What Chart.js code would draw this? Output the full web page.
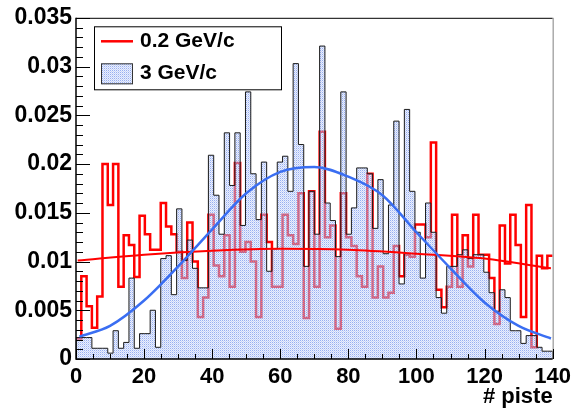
<!DOCTYPE html>
<html>
<head>
<meta charset="utf-8">
<script src="https://cdn.jsdelivr.net/npm/chart.js@4.4.0/dist/chart.umd.min.js"></script>
<style>
  html, body { margin: 0; padding: 0; background: #fff; }
</style>
</head>
<body>
<canvas id="piste" width="576" height="414"></canvas>
<script>
// histogram range: 90 bins between 0 and 140
var xMin = 0, xMax = 140;

// 0.2 GeV/c, one value per bin
var lowMomentum = [
  0.0021, 0.0085, 0.0054, 0.0032, 0.0064, 0.0200, 0.0158, 0.0200, 0.0074, 0.0127,
  0.0117, 0.0084, 0.0147, 0.0128, 0.0112, 0.0112, 0.0160, 0.0136, 0.0128, 0.0110,
  0.0083, 0.0140, 0.0100, 0.0043, 0.0063, 0.0148, 0.0096, 0.0085, 0.0127, 0.0074,
  0.0201, 0.0110, 0.0120, 0.0100, 0.0043, 0.0148, 0.0120, 0.0074, 0.0074, 0.0148,
  0.0127, 0.0118, 0.0170, 0.0042, 0.0172, 0.0074, 0.0233, 0.0125, 0.0137, 0.0031,
  0.0170, 0.0125, 0.0116, 0.0085, 0.0074, 0.0190, 0.0063, 0.0095, 0.0063, 0.0068,
  0.0116, 0.0085, 0.0107, 0.0105, 0.0138, 0.0138, 0.0125, 0.0222, 0.0071, 0.0053,
  0.0074, 0.0148, 0.0074, 0.0127, 0.0095, 0.0148, 0.0107, 0.0107, 0.0083, 0.0036,
  0.0137, 0.0098, 0.0148, 0.0117, 0.0043, 0.0158, 0.0012, 0.0106, 0.0093, 0.0106
];

// 3 GeV/c, one value per bin
var highMomentum = [
  0.0022, 0.0022, 0.0022, 0.0011, 0.0011, 0.0011, 0.0006, 0.0029, 0.0011, 0.0017,
  0.0083, 0.0011, 0.0026, 0.0026, 0.0050, 0.0012, 0.0103, 0.0106, 0.0066, 0.0154,
  0.0101, 0.0122, 0.0093, 0.0073, 0.0073, 0.0209, 0.0168, 0.0128, 0.0232, 0.0178,
  0.0232, 0.0137, 0.0274, 0.0190, 0.0143, 0.0202, 0.0090, 0.0113, 0.0202, 0.0208,
  0.0172, 0.0303, 0.0220, 0.0095, 0.0172, 0.0128, 0.0321, 0.0160, 0.0142, 0.0105,
  0.0274, 0.0128, 0.0155, 0.0196, 0.0196, 0.0190, 0.0134, 0.0184, 0.0108, 0.0158,
  0.0244, 0.0077, 0.0256, 0.0172, 0.0130, 0.0083, 0.0160, 0.0130, 0.0063, 0.0047,
  0.0095, 0.0095, 0.0107, 0.0112, 0.0103, 0.0107, 0.0107, 0.0089, 0.0068, 0.0049,
  0.0071, 0.0063, 0.0029, 0.0029, 0.0016, 0.0024, 0.0024, 0.0012, 0.0008, 0.0008
];

// fitted curves
var lowFitX = [0.5, 20, 40, 60, 80, 100, 120, 139.5];
var lowFitY = [0.0101, 0.0107, 0.0111, 0.0113, 0.0112, 0.0108, 0.0103, 0.0093];
var highFitX = [1, 10, 20, 30, 40, 50, 60, 70, 80, 90, 100, 110, 120, 130, 139.5];
var highFitY = [0.0023, 0.0034, 0.0060, 0.0095, 0.0133, 0.0170, 0.0192, 0.0197, 0.0187, 0.0168, 0.0130, 0.0093, 0.0058, 0.0034, 0.0021];

var yTicks = [0, 0.005, 0.01, 0.015, 0.02, 0.025, 0.03, 0.035];
var legendLabels = ['0.2 GeV/c', '3 GeV/c'];
var axisTitle = '# piste';

var colRed = '#ff0000';
var colFit = '#3a6ef2';
var fontFamily = '"Liberation Sans", Arial, sans-serif';

function histPoints(values, closed) {
  var w = (xMax - xMin) / values.length;
  var pts = [];
  if (closed) pts.push({x: xMin, y: 0});
  for (var i = 0; i < values.length; i++) pts.push({x: xMin + i * w, y: values[i]});
  pts.push({x: xMax, y: values[values.length - 1]});
  if (closed) pts.push({x: xMax, y: 0});
  return pts;
}

function curvePoints(xs, ys) {
  return xs.map(function(x, i) { return {x: x, y: ys[i]}; });
}

// dotted fill like ROOT's pattern, lets the red show through a bit
function makePattern() {
  var c = document.createElement('canvas');
  c.width = 2; c.height = 2;
  var g = c.getContext('2d');
  g.fillStyle = 'rgba(125,155,238,0.8)';
  g.fillRect(0, 0, 1, 1);
  g.fillStyle = 'rgba(170,190,245,0.65)';
  g.fillRect(1, 1, 1, 1);
  g.fillStyle = 'rgba(205,215,250,0.4)';
  g.fillRect(1, 0, 1, 1);
  g.fillRect(0, 1, 1, 1);
  return g.createPattern(c, 'repeat');
}
var blueFill = makePattern();

var frameAndTicks = {
  id: 'frameAndTicks',
  afterDatasetsDraw: function(chart) {
    var ctx = chart.ctx, a = chart.chartArea;
    var xs = chart.scales.x, ys = chart.scales.y;
    ctx.save();
    ctx.lineWidth = 1;
    ctx.strokeStyle = '#000';
    ctx.beginPath();
    ctx.moveTo(a.left, a.top + 0.5); ctx.lineTo(a.right, a.top + 0.5);
    ctx.stroke();
    ctx.strokeStyle = '#808080';
    ctx.beginPath();
    ctx.moveTo(a.right + 0.5, a.top); ctx.lineTo(a.right + 0.5, a.bottom);
    ctx.stroke();

    ctx.strokeStyle = '#000';
    ctx.lineWidth = 1.5;
    ctx.beginPath();
    ctx.moveTo(a.left, a.top); ctx.lineTo(a.left, a.bottom);
    ctx.lineTo(a.right, a.bottom);
    ctx.stroke();

    ctx.lineWidth = 1;
    ctx.beginPath();
    // y ticks every 0.001, major every 0.005
    for (var k = 0; k <= 35; k++) {
      var py = Math.round(ys.getPixelForValue(k / 1000)) + 0.5;
      var len = (k % 5 === 0) ? 14 : 7;
      ctx.moveTo(a.left, py); ctx.lineTo(a.left + len, py);
    }
    // x ticks every 5, major every 20
    for (var j = 0; j <= 28; j++) {
      var px = Math.round(xs.getPixelForValue(j * 5)) + 0.5;
      var h = (j % 4 === 0) ? 10 : 5;
      ctx.moveTo(px, a.bottom); ctx.lineTo(px, a.bottom - h);
    }
    ctx.stroke();
    ctx.restore();
  }
};

var legendBox = {
  id: 'legendBox',
  afterDraw: function(chart) {
    var ctx = chart.ctx, a = chart.chartArea;
    var left = a.left + 18, top = a.top + 8.5, w = 187, hgt = 63;
    ctx.save();
    ctx.fillStyle = '#fff';
    ctx.fillRect(left, top, w, hgt);
    ctx.strokeStyle = '#000';
    ctx.lineWidth = 1;
    ctx.strokeRect(left + 0.5, top + 0.5, w, hgt);

    ctx.strokeStyle = colRed;
    ctx.lineWidth = 2.5;
    ctx.beginPath();
    ctx.moveTo(left + 7, top + 15); ctx.lineTo(left + 39, top + 15);
    ctx.stroke();

    ctx.fillStyle = blueFill;
    ctx.fillRect(left + 7, top + 37, 32, 21);
    ctx.strokeStyle = '#333';
    ctx.lineWidth = 1;
    ctx.strokeRect(left + 7.5, top + 37.5, 31, 20);

    ctx.fillStyle = '#000';
    ctx.font = 'bold 21px ' + fontFamily;
    ctx.textBaseline = 'middle';
    ctx.textAlign = 'left';
    ctx.fillText(legendLabels[0], left + 46, top + 15);
    ctx.fillText(legendLabels[1], left + 46, top + 47);
    ctx.restore();
  }
};

var tickFont = {family: fontFamily, size: 22, weight: 'bold'};

new Chart(document.getElementById('piste'), {
  type: 'line',
  data: {
    datasets: [
      {
        label: 'fit 3 GeV/c',
        data: curvePoints(highFitX, highFitY),
        borderColor: colFit,
        borderWidth: 2.5,
        pointRadius: 0,
        fill: false,
        cubicInterpolationMode: 'monotone',
        order: 0
      },
      {
        label: 'fit 0.2 GeV/c',
        data: curvePoints(lowFitX, lowFitY),
        borderColor: colRed,
        borderWidth: 2,
        pointRadius: 0,
        fill: false,
        cubicInterpolationMode: 'monotone',
        order: 0
      },
      {
        label: legendLabels[1],
        data: histPoints(highMomentum, true),
        stepped: true,
        fill: 'origin',
        backgroundColor: blueFill,
        borderColor: '#1a1a1a',
        borderWidth: 1,
        pointRadius: 0,
        order: 1
      },
      {
        label: legendLabels[0],
        data: histPoints(lowMomentum, false),
        stepped: true,
        fill: false,
        borderColor: colRed,
        borderWidth: 2.5,
        pointRadius: 0,
        order: 2
      }
    ]
  },
  options: {
    responsive: false,
    devicePixelRatio: 1,
    animation: false,
    layout: {padding: {top: 11.5, right: 18, left: 0, bottom: 0}},
    plugins: {
      legend: {display: false},
      tooltip: {enabled: false}
    },
    scales: {
      x: {
        type: 'linear',
        min: xMin,
        max: xMax,
        grid: {display: false, drawTicks: false},
        border: {display: false},
        ticks: {stepSize: 20, color: '#000', font: tickFont, padding: 5, maxRotation: 0, autoSkip: false},
        title: {
          display: true,
          text: axisTitle,
          align: 'end',
          color: '#000',
          font: {family: fontFamily, size: 22, weight: 'bold'},
          padding: {top: 0, bottom: 4}
        },
        afterFit: function(s) { s.height = 55; }
      },
      y: {
        type: 'linear',
        min: 0,
        max: 0.035,
        grid: {display: false, drawTicks: false},
        border: {display: false},
        afterBuildTicks: function(s) { s.ticks = yTicks.map(function(v) { return {value: v}; }); },
        ticks: {
          color: '#000',
          font: {family: fontFamily, size: 23, weight: 'bold'},
          padding: 4,
          callback: function(v) { return v === 0 ? '0' : String(+v.toFixed(3)); }
        },
        afterFit: function(s) { s.width = 76; }
      }
    }
  },
  plugins: [frameAndTicks, legendBox]
});
</script>
</body>
</html>
